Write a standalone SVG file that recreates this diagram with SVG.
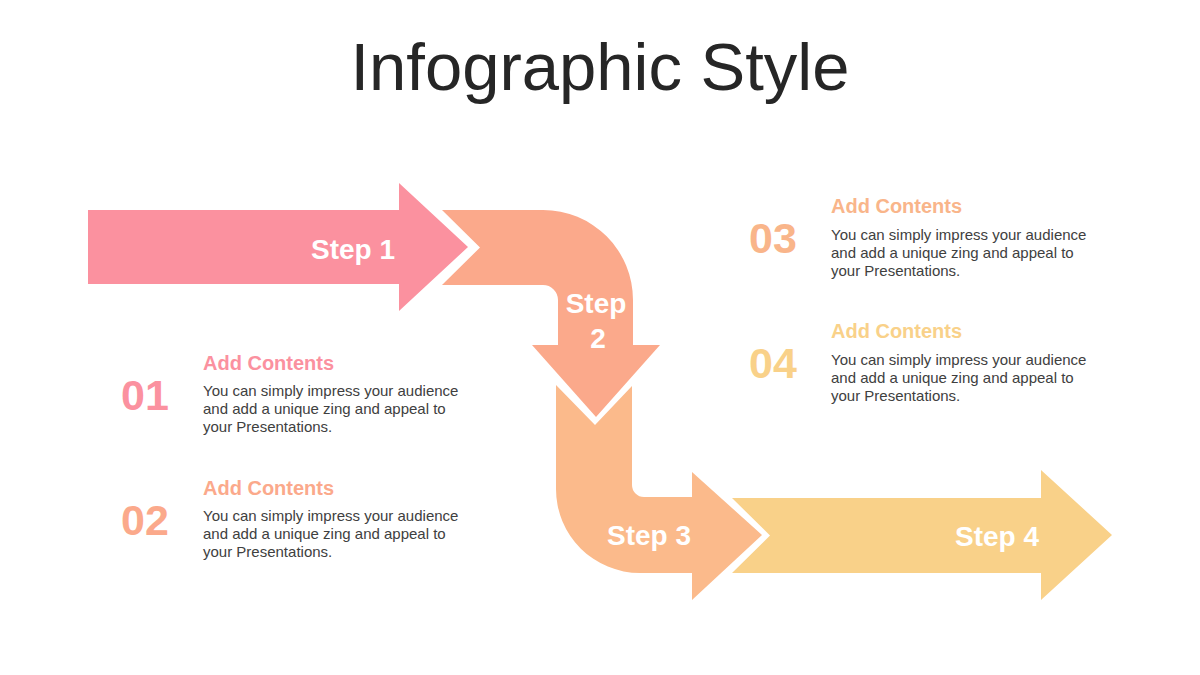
<svg xmlns="http://www.w3.org/2000/svg" width="1200" height="675" viewBox="0 0 1200 675">
<style>
.title{font-family:"Liberation Sans",Arial,sans-serif;font-size:67px;fill:#262626}
.step{font-family:"Liberation Sans",Arial,sans-serif;font-size:28px;font-weight:bold;fill:#ffffff;text-anchor:middle}
.num{font-family:"Liberation Sans",Arial,sans-serif;font-size:43px;font-weight:bold}
.head{font-family:"Liberation Sans",Arial,sans-serif;font-size:20px;font-weight:bold}
.body{font-family:"Liberation Sans",Arial,sans-serif;font-size:15px;fill:#404040}
.c1{fill:#fb919f}.c2{fill:#fba98b}.c3{fill:#fbba8b}.c4{fill:#f9d189}
.t3{fill:#f9b58a}
</style>
<rect width="1200" height="675" fill="#ffffff"/>
<text class="title" x="600" y="90" text-anchor="middle">Infographic Style</text>
<g id="connectors"></g>
<g id="step1">
<path class="c1" d="M88,210 L399,210 L399,183 L468,247 L399,311 L399,284 L88,284 Z"/>
<text class="step" x="353" y="259">Step 1</text>
</g>
<g id="step2">
<path class="c2" d="M442,210 L543,210 A90,90 0 0 1 633,300 L633,345 L660,345 L596,417 L532,345 L558,345 L558,300 A15,15 0 0 0 543,285 L442,285 L480,247.5 Z"/>
<text class="step" x="596" y="313">Step</text>
<text class="step" x="598" y="348">2</text>
</g>
<g id="step3">
<path class="c3" d="M556,385 L595,425 L632,386 L632,485 A12,12 0 0 0 644,497 L692,497 L692,472 L762,535 L692,600 L692,573 L640,573 A84,84 0 0 1 556,489 Z"/>
<text class="step" x="649" y="545">Step 3</text>
</g>
<g id="step4">
<path class="c4" d="M732,498 L1041,498 L1041,470 L1112,535 L1041,600 L1041,573 L732,573 L770,535.5 Z"/>
<text class="step" x="997" y="546">Step 4</text>
</g>
<g id="item01">
<text class="num c1" x="121" y="410">01</text>
<text class="head c1" x="203" y="370">Add Contents</text>
<text class="body" x="203" y="396">You can simply impress your audience</text>
<text class="body" x="203" y="414">and add a unique zing and appeal to</text>
<text class="body" x="203" y="432">your Presentations.</text>
</g>
<g id="item02">
<text class="num c2" x="121" y="535">02</text>
<text class="head c2" x="203" y="495">Add Contents</text>
<text class="body" x="203" y="521">You can simply impress your audience</text>
<text class="body" x="203" y="539">and add a unique zing and appeal to</text>
<text class="body" x="203" y="557">your Presentations.</text>
</g>
<g id="item03">
<text class="num t3" x="749" y="253">03</text>
<text class="head t3" x="831" y="213">Add Contents</text>
<text class="body" x="831" y="240">You can simply impress your audience</text>
<text class="body" x="831" y="258">and add a unique zing and appeal to</text>
<text class="body" x="831" y="276">your Presentations.</text>
</g>
<g id="item04">
<text class="num c4" x="749" y="378">04</text>
<text class="head c4" x="831" y="338">Add Contents</text>
<text class="body" x="831" y="365">You can simply impress your audience</text>
<text class="body" x="831" y="383">and add a unique zing and appeal to</text>
<text class="body" x="831" y="401">your Presentations.</text>
</g>
</svg>
